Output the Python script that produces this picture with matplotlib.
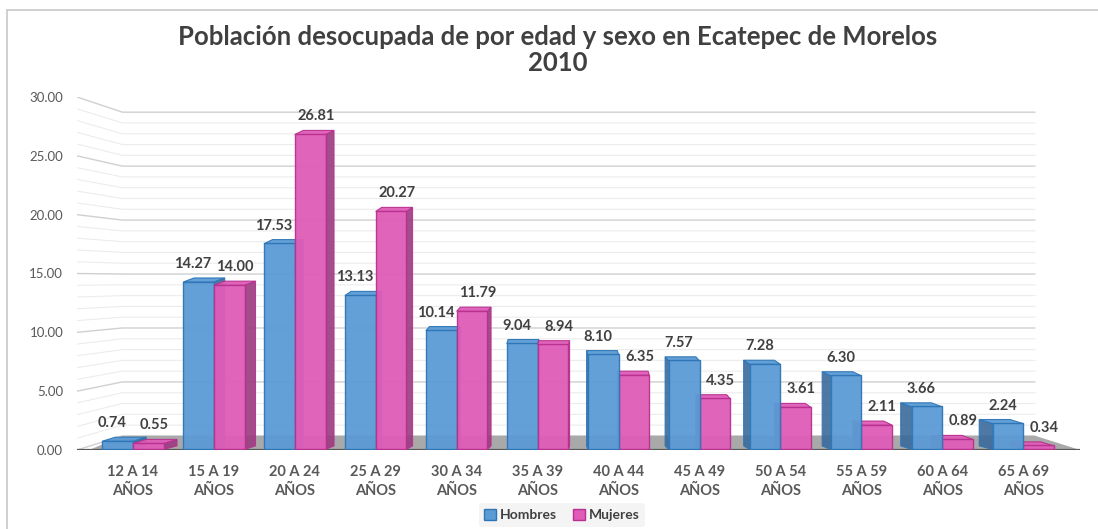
import matplotlib.pyplot as plt
from matplotlib.patches import Polygon, Rectangle, Patch

# Data
grupos = ["12 A 14\nAÑOS", "15 A 19\nAÑOS", "20 A 24\nAÑOS", "25 A 29\nAÑOS",
          "30 A 34\nAÑOS", "35 A 39\nAÑOS", "40 A 44\nAÑOS", "45 A 49\nAÑOS",
          "50 A 54\nAÑOS", "55 A 59\nAÑOS", "60 A 64\nAÑOS", "65 A 69\nAÑOS"]
hombres = [0.74, 14.27, 17.53, 13.13, 10.14, 9.04, 8.10, 7.57, 7.28, 6.30, 3.66, 2.24]
mujeres = [0.55, 14.00, 26.81, 20.27, 11.79, 8.94, 6.35, 4.35, 3.61, 2.11, 0.89, 0.34]
yticks = [0, 5, 10, 15, 20, 25, 30]

plt.rcParams["font.family"] = ["Lato", "DejaVu Sans"]

fig = plt.figure(figsize=(10.98, 5.29), dpi=100)
ax = fig.add_axes([77 / 1098, 79 / 529, (1080 - 77) / 1098, (450 - 97) / 529])

x0, x1 = -0.69, 11.7
wall_x, back_right = -0.13, 11.15
ax.set_xlim(x0, x1)
ax.set_ylim(0, 30)

# perspective of the back wall: back value = a*v + b
a, b = 0.917, 1.2
for v in range(0, 31):
    col = "#d0d0d0" if v % 5 == 0 else "#ececec"
    lw = 1.0 if v % 5 == 0 else 0.8
    vb = a * v + b
    ax.plot([x0, wall_x, back_right], [v, vb, vb], color=col, lw=lw, zorder=1,
            solid_capstyle="butt")

# floor
ax.add_patch(Polygon([(x0 + 0.15, 0), (x1, 0), (back_right, b), (wall_x, b)],
                     closed=True, facecolor="#a9a9a9", edgecolor="none", zorder=2))
ax.plot([x0, x1], [0, 0], color="#595959", lw=1.6, zorder=2)

w = 0.38
colors = {
    "h": ("#5b9bd5", "#2e75b6", "#3a6a9a"),
    "m": ("#e05cb8", "#b8308f", "#9a3a7f"),
}


def draw_bar(xl, h, dx, key, z):
    face, edge, side = colors[key]
    dy = 0.35
    if dx >= 0:
        xs = xl + w
    else:
        xs = xl
    # side face
    ax.add_patch(Polygon([(xs, 0.05), (xs + dx, dy), (xs + dx, h + dy), (xs, h)],
                         closed=True, facecolor=side, edgecolor=edge, lw=0.8,
                         alpha=0.9, zorder=z))
    # top face
    ax.add_patch(Polygon([(xl, h), (xl + w, h), (xl + w + dx, h + dy), (xl + dx, h + dy)],
                         closed=True, facecolor=face, edgecolor=edge, lw=0.8,
                         alpha=0.95, zorder=z))
    # front face
    ax.bar(xl, h, width=w, align="edge", bottom=0.05, color=face, edgecolor=edge,
           linewidth=1.0, alpha=0.95, zorder=z + 0.1)


for i, (hv, mv) in enumerate(zip(hombres, mujeres)):
    dx = 0.03 * (5.5 - i)
    xh = i - w
    xm = i
    if dx >= 0:
        draw_bar(xh, hv, dx, "h", 3)
        draw_bar(xm, mv, dx, "m", 4)
    else:
        draw_bar(xm, mv, dx, "m", 3)
        draw_bar(xh, hv, dx, "h", 4)
    for xl, val, off in ((xh, hv, -4), (xm, mv, 4)):
        ax.annotate(f"{val:.2f}", (xl + w / 2, val + 0.35), xytext=(off, 5),
                    textcoords="offset points", ha="center", va="bottom",
                    fontsize=10.5, fontweight="bold", color="#404040", zorder=6)

ax.set_xticks(range(len(grupos)))
ax.set_xticklabels(grupos, fontsize=10.5, fontweight="bold", color="#595959",
                   linespacing=1.45)
ax.set_yticks(yticks)
ax.set_yticklabels([f"{t:.2f}" for t in yticks], fontsize=9.5, color="#595959")
ax.tick_params(length=0, axis="y", pad=10)
ax.tick_params(length=0, axis="x", pad=11)
for s in ax.spines.values():
    s.set_visible(False)

fig.text(0.508, 1 - 50 / 529,
         "Población desocupada de por edad y sexo en Ecatepec de Morelos\n2010",
         ha="center", va="center", fontsize=18.5, fontweight="bold",
         color="#404040", linespacing=1.1)

handles = [Patch(facecolor="#5b9bd5", edgecolor="#2e75b6", label="Hombres"),
           Patch(facecolor="#e05cb8", edgecolor="#b8308f", label="Mujeres")]
leg = fig.legend(handles=handles, loc="center", bbox_to_anchor=(562 / 1098, 1 - 515 / 529),
                 ncol=2, frameon=True, fontsize=10, handlelength=0.8, handleheight=0.8,
                 handletextpad=0.3, columnspacing=1.2, borderpad=0.4)
leg.get_frame().set_facecolor("#f2f2f2")
leg.get_frame().set_edgecolor("none")
for t in leg.get_texts():
    t.set_fontweight("bold")
    t.set_color("#404040")

# chart border
fig.add_artist(Rectangle((7 / 1098, -0.05), 1.1, 1 - 10 / 529 + 0.05,
                         transform=fig.transFigure, fill=False,
                         edgecolor="#c8c8c8", lw=1.2))

plt.savefig("out.png", dpi=100)
